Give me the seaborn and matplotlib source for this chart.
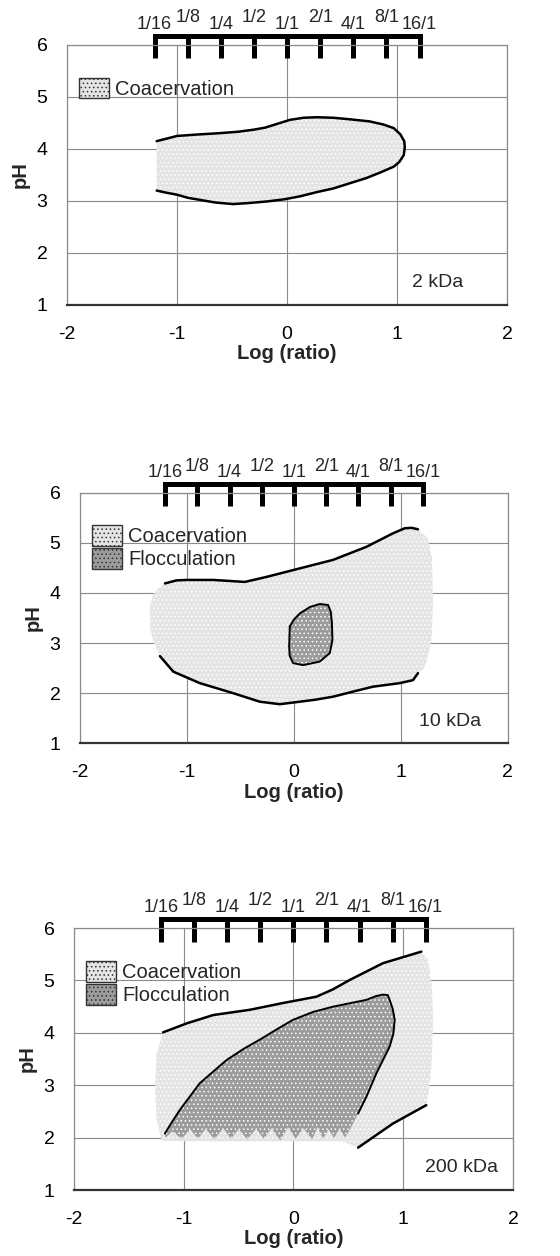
import numpy as np
import pandas as pd
import matplotlib
matplotlib.use('Agg')
import matplotlib.pyplot as plt
import seaborn as sns
from matplotlib.patches import Patch

# dati
rapporti = ['1/16', '1/8', '1/4', '1/2', '1/1', '2/1', '4/1', '8/1', '16/1']
rapporti_val = [1/16, 1/8, 1/4, 1/2, 1, 2, 4, 8, 16]
etichette_kda = ['2 kDa', '10 kDa', '200 kDa']

# pannello 1 - 2 kDa, contorno della coacervazione
p1_coac_x = [-1.185, -1.0, -0.8, -0.64, -0.45, -0.306, -0.2, -0.124, 0.027, 0.15, 0.27, 0.42, 0.573, 0.75,
             0.876, 0.97, 1.03, 1.065, 1.07, 1.06, 1.02, 0.97, 0.85, 0.72, 0.57, 0.42, 0.27, 0.12, -0.03,
             -0.185, -0.35, -0.49, -0.65, -0.79, -0.9, -1.0, -1.1, -1.185]
p1_coac_y = [4.15, 4.25, 4.28, 4.30, 4.33, 4.37, 4.41, 4.46, 4.56, 4.6, 4.61, 4.6, 4.57, 4.53,
             4.47, 4.40, 4.28, 4.15, 4.03, 3.88, 3.75, 3.66, 3.55, 3.44, 3.34, 3.24, 3.17, 3.09, 3.03,
             2.99, 2.96, 2.94, 2.97, 3.02, 3.06, 3.12, 3.16, 3.20]

# pannello 2 - 10 kDa
p2_sup_x = [-1.206, -1.1, -1.004, -0.755, -0.459, -0.257, 0.054, 0.366, 0.677, 0.926, 1.035, 1.1, 1.16]
p2_sup_y = [4.19, 4.25, 4.26, 4.26, 4.22, 4.32, 4.49, 4.66, 4.92, 5.19, 5.29, 5.30, 5.27]
p2_inf_x = [1.16, 1.113, 0.988, 0.739, 0.55, 0.366, 0.2, 0.054, -0.132, -0.319, -0.568, -0.879, -1.128, -1.253]
p2_inf_y = [2.40, 2.26, 2.20, 2.13, 2.03, 1.93, 1.87, 1.83, 1.78, 1.83, 2.00, 2.20, 2.43, 2.74]
p2_dx_x = [1.25, 1.29, 1.30, 1.29, 1.268, 1.22]
p2_dx_y = [5.10, 4.70, 3.86, 3.20, 2.86, 2.50]
p2_sx_x = [-1.31, -1.345, -1.346, -1.32, -1.284]
p2_sx_y = [3.00, 3.30, 3.73, 3.95, 4.06]
p2_flocc_x = [-0.039, 0.0, 0.054, 0.15, 0.241, 0.319, 0.345, 0.355, 0.36, 0.335, 0.241, 0.086, -0.008, -0.04, -0.045, -0.039]
p2_flocc_y = [3.33, 3.47, 3.59, 3.72, 3.78, 3.76, 3.62, 3.40, 3.06, 2.80, 2.63, 2.56, 2.60, 2.75, 2.93, 3.33]

# pannello 3 - 200 kDa
p3_sup_x = [-1.187, -0.974, -0.731, -0.398, -0.094, 0.209, 0.36, 0.513, 0.816, 1.165]
p3_sup_y = [4.01, 4.18, 4.34, 4.44, 4.57, 4.69, 4.83, 5.01, 5.33, 5.55]
p3_inf_x = [1.21, 0.907, 0.589]
p3_inf_y = [2.62, 2.27, 1.81]
p3_dx_x = [1.226, 1.26, 1.272, 1.26, 1.241]
p3_dx_y = [5.39, 4.90, 4.25, 3.50, 2.97]
p3_fondo_x = [0.45, -0.2, -0.8, -1.2, -1.247, -1.26, -1.247]
p3_fondo_y = [1.93, 1.93, 1.93, 1.94, 2.34, 3.0, 3.61]
p3_flocc_x = [-1.171, -1.10, -1.035, -0.853, -0.61, -0.45, -0.307, -0.15, -0.003, 0.18, 0.361, 0.665, 0.75, 0.816,
              0.86, 0.877, 0.905, 0.923, 0.91, 0.877, 0.756, 0.665, 0.589]
p3_flocc_y = [2.08, 2.32, 2.53, 3.04, 3.48, 3.70, 3.87, 4.07, 4.25, 4.40, 4.50, 4.63, 4.70, 4.73,
              4.72, 4.63, 4.45, 4.25, 3.98, 3.74, 3.23, 2.78, 2.46]
# dentellatura sul fondo della flocculazione
p3_denti_x = [0.52, 0.47, 0.42, 0.37, 0.32, 0.27, 0.22, 0.17, 0.09, 0.02, -0.05, -0.12, -0.2, -0.27, -0.34,
              -0.42, -0.5, -0.57, -0.64, -0.72, -0.8, -0.87, -0.94, -1.02, -1.1, -1.17]
p3_denti_y = [2.18, 2.00, 2.17, 1.99, 2.16, 1.98, 2.20, 1.97, 2.18, 1.98, 2.20, 1.95, 2.18, 1.98, 2.17,
              1.97, 2.16, 1.98, 2.18, 1.97, 2.17, 1.98, 2.16, 1.98, 2.12, 2.00]

sns.set_theme(style='white')
plt.rcParams['font.family'] = ['Liberation Sans', 'DejaVu Sans']
plt.rcParams['hatch.color'] = '#b4b4b4'
plt.rcParams['hatch.linewidth'] = 0.6

col_coac = '#e4e4e4'
col_flocc = '#9c9c9c'

fig = plt.figure(figsize=(5.6, 12.56), dpi=100)
assi = [fig.add_axes([0.1196, 0.7572, 0.786, 0.207]),
        fig.add_axes([0.1429, 0.4082, 0.764, 0.1995]),
        fig.add_axes([0.132, 0.0525, 0.784, 0.2086])]
pos_kda = [1.6, 1.75, 1.86]


def linea(ax, x, y, lw=1.8):
    d = pd.DataFrame({'x': x, 'y': y})
    sns.lineplot(data=d, x='x', y='y', sort=False, estimator=None, color='black', lw=lw, ax=ax)


def prepara(ax, i):
    ax.set_xlim(-2, 2)
    ax.set_ylim(1, 6)
    ax.set_xticks([-2, -1, 0, 1, 2])
    ax.set_yticks([1, 2, 3, 4, 5, 6])
    ax.set_xticklabels(['-2', '-1', '0', '1', '2'])
    ax.grid(True, color='#8a8a8a', lw=0.8)
    ax.set_axisbelow(True)
    for s in ['left', 'top', 'right']:
        ax.spines[s].set_color('#8a8a8a')
        ax.spines[s].set_linewidth(0.9)
    ax.spines['bottom'].set_color('#333333')
    ax.spines['bottom'].set_linewidth(1.6)
    ax.tick_params(axis='both', labelsize=14, colors='black', direction='out', length=5, width=0.8)
    ax.tick_params(axis='x', pad=10, color='#8a8a8a')
    ax.tick_params(axis='y', pad=9, color='#8a8a8a')
    ax.set_xlabel('Log (ratio)', fontsize=14.5, fontweight='bold', labelpad=1)
    ax.set_ylabel('pH', fontsize=14.5, fontweight='bold', labelpad=5)
    ax.text(pos_kda[i], 1.43, etichette_kda[i], fontsize=14, ha='right', va='center')

    # barra dei rapporti in alto
    lr = np.log10(rapporti_val)
    ax.plot([lr[0], lr[-1]], [6.18, 6.18], color='black', lw=3.6, clip_on=False, solid_capstyle='projecting')
    for k, (v, t) in enumerate(zip(lr, rapporti)):
        ax.plot([v, v], [6.18, 5.74], color='black', lw=3.6, clip_on=False, solid_capstyle='butt')
        yy = 6.36 if k % 2 else 6.23
        ax.text(v, yy, t, fontsize=13, ha='center', va='bottom')


for i, ax in enumerate(assi):
    prepara(ax, i)

# pannello 1
ax = assi[0]
ax.fill(p1_coac_x, p1_coac_y, facecolor=col_coac, hatch='....', lw=0)
linea(ax, p1_coac_x, p1_coac_y)
ax.legend(handles=[Patch(facecolor=col_coac, edgecolor='#333333', hatch='....', label='Coacervation')],
          loc='upper left', bbox_to_anchor=(0.0, 0.92), frameon=False, fontsize=14.5,
          handlelength=1.5, handleheight=1.2, handletextpad=0.3, borderaxespad=0.2)

# pannello 2
ax = assi[1]
ax.fill(p2_sup_x + p2_dx_x + p2_inf_x + p2_sx_x, p2_sup_y + p2_dx_y + p2_inf_y + p2_sx_y,
        facecolor=col_coac, hatch='....', lw=0)
ax.fill(p2_flocc_x, p2_flocc_y, facecolor=col_flocc, hatch='....', lw=0)
linea(ax, p2_sup_x, p2_sup_y)
linea(ax, p2_inf_x, p2_inf_y)
linea(ax, p2_flocc_x, p2_flocc_y, lw=1.4)

# pannello 3
ax = assi[2]
ax.fill(p3_sup_x + p3_dx_x + p3_inf_x + p3_fondo_x, p3_sup_y + p3_dx_y + p3_inf_y + p3_fondo_y,
        facecolor=col_coac, hatch='....', lw=0)
ax.fill(p3_flocc_x + p3_denti_x, p3_flocc_y + p3_denti_y, facecolor=col_flocc, hatch='....', lw=0)
linea(ax, p3_sup_x, p3_sup_y)
linea(ax, p3_inf_x, p3_inf_y)
linea(ax, p3_flocc_x, p3_flocc_y, lw=1.4)

for ax in assi[1:]:
    ax.legend(handles=[Patch(facecolor=col_coac, edgecolor='#333333', hatch='....', label='Coacervation'),
                       Patch(facecolor=col_flocc, edgecolor='#333333', hatch='....', label='Flocculation')],
              loc='upper left', bbox_to_anchor=(0.0, 0.92), frameon=False, fontsize=14.5,
              handlelength=1.5, handleheight=1.2, handletextpad=0.3, borderaxespad=0.2,
              labelspacing=0.1)

fig.savefig('out.png', dpi=100)
